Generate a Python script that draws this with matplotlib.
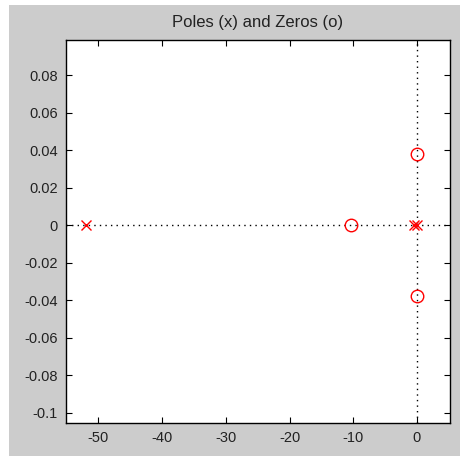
import matplotlib
matplotlib.use("Agg")
from matplotlib import pyplot as plt
from matplotlib.patches import Rectangle

plt.rcParams['font.family'] = ['Liberation Sans', 'DejaVu Sans']

# pole and zero locations (real, imag)
pole_re = [-52.0, -0.4, 0.0]
pole_im = [0.0, 0.0, 0.0]
zero_re = [-10.3, 0.0, 0.0]
zero_im = [0.0, 0.038, -0.038]

W, H = 466, 457
fig = plt.figure(figsize=(W / 100, H / 100), dpi=100, facecolor="white")
# grey figure panel with a thin white margin
fig.patches.append(Rectangle((9 / W, 1 - 456 / H), (460 - 9) / W, (456 - 5) / H,
                             transform=fig.transFigure, facecolor="#cccccc",
                             edgecolor="none", zorder=-1))

ax = fig.add_axes([66 / W, 1 - 423 / H, (450 - 66) / W, (423 - 40) / H])
ax.set_facecolor("white")

ax.axhline(0, color="black", linestyle=(0, (1, 3)), linewidth=1.0, zorder=1)
ax.axvline(0, color="black", linestyle=(0, (1, 3)), linewidth=1.0, zorder=1)

ax.plot(pole_re, pole_im, linestyle="none", marker="x", color="red",
        markersize=7, markeredgewidth=1.0, zorder=3)
ax.plot(zero_re, zero_im, linestyle="none", marker="o", color="red",
        markerfacecolor="none", markersize=9, markeredgewidth=1.0, zorder=3)

ax.set_xlim(-55.1, 5.2)
ax.set_ylim(-0.1056, 0.0987)
ax.set_xticks([-50, -40, -30, -20, -10, 0])
ax.set_xticklabels(["-50", "-40", "-30", "-20", "-10", "0"])
ax.set_yticks([-0.1, -0.08, -0.06, -0.04, -0.02, 0, 0.02, 0.04, 0.06, 0.08])
ax.set_yticklabels(["-0.1", "-0.08", "-0.06", "-0.04", "-0.02", "0",
                    "0.02", "0.04", "0.06", "0.08"])
ax.tick_params(direction="in", top=True, right=True, length=4, width=0.8,
               labelsize=10.5, colors="black", labelcolor="#222222", pad=6)
for s in ax.spines.values():
    s.set_linewidth(1.0)
    s.set_color("black")

ax.set_title("Poles (x) and Zeros (o)", fontsize=12, color="#222222", pad=9)

fig.savefig("out.png", dpi=100, facecolor=fig.get_facecolor())
